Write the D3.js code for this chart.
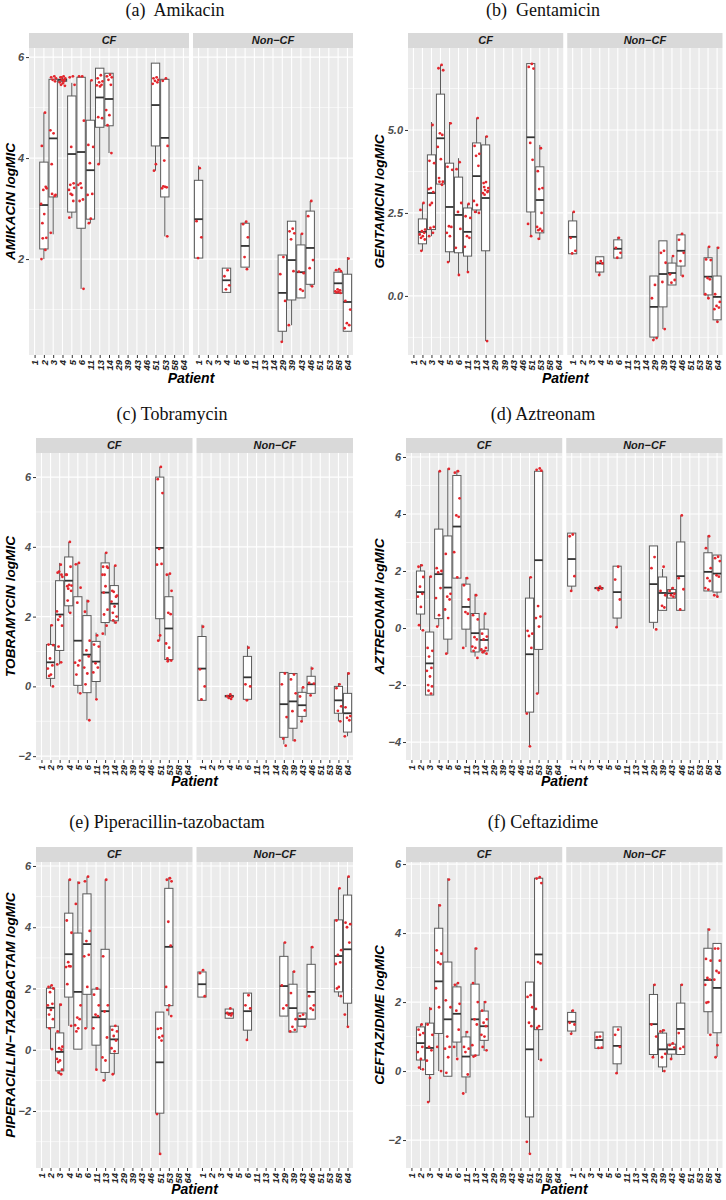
<!DOCTYPE html>
<html>
<head>
<meta charset="utf-8">
<title>logMIC by patient</title>
<script src="https://cdnjs.cloudflare.com/ajax/libs/d3/7.8.5/d3.min.js"></script>
<style>
  html, body { margin: 0; padding: 0; background: #fff; }
  svg text { font-family: "Liberation Sans", Arial, sans-serif; }
  .title { font-family: "Liberation Serif", "Times New Roman", serif; font-size: 18px; white-space: pre; }
  .bi { font-weight: bold; font-style: italic; }
</style>
</head>
<body>
<svg id="chart" width="726" height="1200"></svg>
<script>
// patients on the x axis (same for both facets)
const patients = ['1', '2', '3', '4', '5', '6', '11', '13', '14', '29', '39', '43', '46', '51', '53', '58', '64']

// rows: [group, patient, [lower whisker, q1, median, q3, upper whisker], points]
const amikacin = [
  ['CF', '2', [2.0, 2.2, 3.07, 3.92, 4.9], [4.9, 4.24, 3.4, 3.37, 3.43, 3.09, 2.89, 2.71, 2.42, 2.41, 2.18, 2.0]],
  ['CF', '3', [2.49, 3.23, 4.39, 5.56, 5.56], [5.62, 5.6, 5.58, 5.55, 5.52, 4.55, 4.49, 3.88, 3.27, 3.29, 3.25, 2.52]],
  ['CF', '4', [5.5, 5.52, 5.55, 5.56, 5.6], [5.62, 5.6, 5.58, 5.55, 5.55, 5.5, 5.48, 5.45, 5.43, 5.6, 5.52]],
  ['CF', '5', [2.81, 2.93, 4.08, 5.23, 5.49], [5.62, 5.6, 5.45, 4.22, 3.5, 3.37, 3.27, 3.47, 3.41, 3.29, 3.15, 2.82]],
  ['CF', '6', [1.41, 2.61, 4.12, 5.6, 5.6], [5.62, 5.62, 4.74, 3.5, 3.18, 3.47, 3.41, 3.15, 1.41]],
  ['CF', '11', [2.71, 2.79, 3.76, 4.75, 5.54], [5.54, 4.26, 4.22, 3.9, 3.29, 3.27, 2.8, 2.71]],
  ['CF', '13', [3.88, 4.61, 5.2, 5.78, 5.78], [5.64, 5.58, 5.52, 5.5, 5.45, 5.44, 5.42, 4.81, 4.79, 3.88]],
  ['CF', '14', [4.1, 4.64, 5.17, 5.68, 5.68], [5.65, 5.62, 5.6, 5.55, 5.45, 4.95, 4.85, 4.65, 4.1]],
  ['CF', '51', [3.75, 4.24, 5.05, 5.88, 5.88], [5.6, 5.58, 5.55, 5.53, 5.5, 5.47, 3.88, 3.75]],
  ['CF', '53', [2.45, 3.23, 4.4, 5.56, 5.56], [5.58, 5.53, 4.24, 3.95, 3.42, 3.4, 3.43, 3.44, 2.45]],
  ['Non', '1', [2.02, 2.02, 2.79, 3.56, 3.85], [3.8, 2.75, 2.43, 2.02]],
  ['Non', '4', [1.34, 1.34, 1.58, 1.82, 1.82], [1.78, 1.66, 1.48, 1.4]],
  ['Non', '6', [1.84, 1.84, 2.26, 2.71, 2.74], [2.74, 2.69, 2.43, 2.04, 1.8]],
  ['Non', '29', [0.36, 0.57, 1.33, 2.08, 2.08], [2.04, 1.7, 1.17, 0.36]],
  ['Non', '39', [0.69, 1.19, 1.98, 2.75, 2.75], [2.6, 2.55, 2.51, 2.39, 1.76, 0.69]],
  ['Non', '43', [1.23, 1.23, 1.74, 2.28, 2.5], [2.5, 1.75, 1.72, 1.4, 1.37]],
  ['Non', '46', [1.46, 1.5, 2.22, 2.95, 3.15], [3.15, 2.85, 1.98, 1.82, 1.46]],
  ['Non', '58', [1.32, 1.32, 1.52, 1.74, 1.8], [1.8, 1.78, 1.76, 1.4, 1.38, 1.36, 1.35, 1.34, 1.33]],
  ['Non', '64', [0.57, 0.57, 1.15, 1.7, 2.04], [2.01, 1.17, 1.0, 0.73, 0.69, 0.63]]
]

const gentamicin = [
  ['CF', '2', [1.36, 1.57, 1.93, 2.32, 2.8], [2.8, 2.59, 2.0, 1.95, 1.9, 1.85, 1.8, 1.75, 1.7, 1.36]],
  ['CF', '3', [1.8, 2.0, 3.1, 4.25, 5.24], [5.15, 4.07, 4.0, 3.25, 3.13, 3.22, 2.8, 2.74, 2.08, 2.05, 1.9, 1.8]],
  ['CF', '4', [3.35, 3.37, 4.75, 6.08, 6.96], [6.96, 6.86, 6.8, 4.9, 4.85, 4.49, 4.12, 3.55, 3.44, 3.44, 3.35]],
  ['CF', '5', [1.02, 1.33, 2.68, 4.0, 5.24], [5.2, 3.89, 3.8, 2.1, 2.08, 1.9, 1.8, 1.02]],
  ['CF', '6', [0.63, 1.3, 2.44, 3.58, 4.15], [4.03, 3.82, 2.8, 2.53, 2.02, 1.45, 0.63]],
  ['CF', '11', [0.72, 1.2, 1.93, 2.65, 2.77], [2.77, 2.4, 2.35, 1.8, 1.75, 1.48, 0.72]],
  ['CF', '13', [2.5, 2.59, 3.61, 4.61, 5.36], [5.36, 4.52, 4.28, 4.22, 3.92, 2.86, 2.74, 2.53, 2.5]],
  ['CF', '14', [-1.36, 1.36, 2.95, 4.55, 4.82], [4.8, 3.4, 3.25, 3.19, 3.13, 3.1, 3.43, 3.28, 3.16, 3.05, -1.36]],
  ['CF', '51', [1.8, 2.53, 4.78, 7.0, 7.0], [6.99, 6.9, 6.85, 4.61, 4.1, 2.17, 1.8]],
  ['CF', '53', [1.69, 1.9, 2.89, 3.89, 4.55], [4.45, 3.76, 3.25, 3.22, 2.5, 2.08, 2.02, 1.98, 1.96, 1.72]],
  ['Non', '1', [1.27, 1.27, 1.78, 2.26, 2.53], [2.53, 1.75, 1.36, 1.28]],
  ['Non', '4', [0.63, 0.72, 0.98, 1.18, 1.18], [1.05, 1.0, 0.98, 0.63]],
  ['Non', '6', [1.14, 1.14, 1.42, 1.69, 1.78], [1.75, 1.45, 1.3, 1.15]],
  ['Non', '29', [-1.33, -1.24, -0.33, 0.6, 0.6], [0.33, -0.07, -1.27, -1.33]],
  ['Non', '39', [-1.0, -0.33, 0.66, 1.66, 1.66], [1.36, 1.3, 1.0, 0.42, -1.0]],
  ['Non', '43', [0.33, 0.33, 0.69, 0.99, 1.18], [1.2, 0.65, 0.48, 0.4]],
  ['Non', '46', [0.6, 0.9, 1.36, 1.84, 1.87], [1.87, 1.69, 1.3, 1.05, 0.6]],
  ['Non', '58', [-0.07, 0.03, 0.58, 1.15, 1.48], [1.48, 1.1, 1.08, 0.54, 0.5, 0.05, -0.07]],
  ['Non', '64', [-0.78, -0.72, -0.03, 0.6, 1.48], [1.45, 0.05, -0.18, -0.3, -0.35, -0.4, -0.78]]
]

const tobramycin = [
  ['CF', '2', [0.0, 0.23, 0.69, 1.2, 1.77], [1.75, 1.2, 1.18, 0.8, 0.6, 0.51, 0.34, 0.3, 0.0]],
  ['CF', '3', [0.63, 1.03, 2.06, 3.03, 3.54], [3.49, 3.26, 3.14, 3.29, 3.2, 2.15, 2.0, 1.91, 1.74, 1.14, 0.69, 0.63]],
  ['CF', '4', [2.11, 2.31, 3.03, 3.71, 4.14], [4.14, 3.2, 2.89, 2.8, 3.43, 3.2, 2.91, 2.87, 2.74, 2.46, 2.11]],
  ['CF', '5', [-0.2, 0.03, 1.31, 2.57, 3.54], [3.54, 3.5, 2.83, 2.4, 0.74, 0.68, 0.6, 0.34, -0.2]],
  ['CF', '6', [-0.97, -0.18, 0.91, 2.03, 2.49], [2.44, 2.14, 1.31, 1.03, 0.86, 0.54, 0.37, 0.06, -0.97]],
  ['CF', '11', [-0.34, 0.14, 0.71, 1.29, 1.54], [1.46, 1.2, 1.14, 0.66, 0.54, 0.4, -0.37]],
  ['CF', '13', [1.46, 1.83, 2.69, 3.54, 3.83], [3.83, 3.43, 3.4, 3.2, 3.43, 3.2, 2.87, 2.69, 2.2, 2.06, 1.74, 1.51]],
  ['CF', '14', [1.8, 1.88, 2.37, 2.89, 3.46], [3.46, 2.74, 2.6, 2.71, 2.57, 2.43, 2.29, 2.11, 2.0, 1.89, 1.83]],
  ['CF', '51', [1.31, 1.94, 3.97, 6.0, 6.29], [6.29, 5.94, 5.54, 3.94, 3.51, 3.49, 1.46, 1.31]],
  ['CF', '53', [0.72, 0.77, 1.66, 2.57, 3.23], [3.23, 3.2, 2.74, 2.11, 2.07, 1.23, 1.11, 0.8, 0.74, 0.72]],
  ['Non', '1', [-0.4, -0.4, 0.51, 1.43, 1.77], [1.71, 0.49, 0.0, -0.37]],
  ['Non', '4', [-0.3, -0.3, -0.28, -0.26, -0.24], [-0.23, -0.28, -0.3, -0.33, -0.36]],
  ['Non', '6', [-0.37, -0.37, 0.26, 0.86, 1.17], [1.11, 0.06, 0.0, -0.4]],
  ['Non', '29', [-1.66, -1.46, -0.51, 0.4, 0.4], [0.37, 0.06, -0.88, -1.5, -1.7]],
  ['Non', '39', [-1.57, -1.2, -0.43, 0.37, 0.37], [0.34, 0.2, -0.2, -0.71, -1.55]],
  ['Non', '43', [-1.03, -0.86, -0.54, -0.17, -0.03], [-0.03, -0.29, -0.69, -1.0]],
  ['Non', '46', [-0.2, -0.2, 0.06, 0.29, 0.57], [0.51, 0.1, 0.08, -0.26]],
  ['Non', '58', [-1.0, -0.77, -0.4, 0.0, 0.09], [0.06, -0.05, -0.57, -0.7, -1.0]],
  ['Non', '64', [-1.43, -1.31, -0.77, -0.2, 0.4], [0.37, -0.6, -0.85, -0.9, -0.97, -1.43]]
]

const aztreonam = [
  ['CF', '2', [-0.07, 0.49, 1.26, 2.0, 2.24], [2.2, 2.15, 1.79, 1.45, 1.2, 1.1, 0.74, 0.1, -0.08]],
  ['CF', '3', [-2.35, -2.35, -1.24, -0.14, 1.82], [1.8, -0.7, -0.8, -1.0, -1.4, -1.5, -1.7, -2.0, -2.05, -2.2, -2.3]],
  ['CF', '4', [0.07, 0.33, 1.89, 3.47, 5.5], [5.5, 2.1, 2.0, 1.95, 1.4, 1.05, 0.45, 0.05]],
  ['CF', '5', [-0.91, -0.39, 1.42, 3.23, 5.6], [5.58, 2.6, 1.2, 1.1, 1.0, 0.65, 0.35, -0.9]],
  ['CF', '6', [1.75, 1.75, 3.56, 5.35, 5.53], [5.5, 5.45, 4.55, 3.95, 3.9, 2.66, 1.78]],
  ['CF', '11', [-0.67, -0.04, 0.74, 1.54, 1.79], [1.75, 1.5, 1.0, 0.56, 0.5, -0.7]],
  ['CF', '13', [-1.0, -0.84, -0.18, 0.51, 1.2], [1.15, 0.45, 0.3, -0.32, -0.4, -0.65, -0.7, -0.8, -1.05]],
  ['CF', '14', [-0.9, -0.8, -0.42, -0.04, 0.5], [0.5, -0.2, -0.3, -0.4, -0.7, -0.75, -0.8, -0.85, -0.9]],
  ['CF', '51', [-4.14, -2.95, -0.92, 1.05, 1.79], [1.78, -0.1, -0.2, -0.28, -0.7, -3.0, -4.15]],
  ['CF', '53', [-2.3, -0.75, 2.38, 5.5, 5.5], [5.6, 5.55, 5.52, 0.77, 0.4, 0.35, 0.05, -2.3]],
  ['Non', '1', [1.3, 1.47, 2.42, 3.33, 3.33], [3.28, 3.22, 1.82, 1.3]],
  ['Non', '4', [1.36, 1.38, 1.4, 1.42, 1.45], [1.45, 1.4, 1.38, 1.33]],
  ['Non', '6', [0.03, 0.35, 1.26, 2.17, 2.17], [2.15, 1.7, 1.0, 0.03]],
  ['Non', '29', [-0.02, 0.2, 1.54, 2.88, 2.88], [2.49, 2.1, -0.05]],
  ['Non', '39', [0.62, 0.62, 1.23, 1.79, 2.07], [2.15, 1.3, 1.15, 0.78, 0.72]],
  ['Non', '43', [1.05, 1.05, 1.22, 1.35, 1.42], [1.4, 1.3, 1.2, 1.15, 1.1]],
  ['Non', '46', [0.62, 0.62, 1.82, 3.02, 3.95], [3.95, 1.75, 1.36, 0.65]],
  ['Non', '58', [1.3, 1.3, 1.97, 2.64, 3.25], [3.22, 2.8, 2.1, 1.75, 1.65, 1.4, 1.35]],
  ['Non', '64', [1.09, 1.26, 1.91, 2.56, 2.56], [2.5, 2.45, 2.35, 1.85, 1.8, 1.15, 1.1]]
]

const piperacillin = [
  ['CF', '2', [0.02, 0.72, 1.37, 2.01, 2.1], [2.1, 2.05, 2.0, 1.88, 1.5, 1.45, 1.3, 1.15, 1.0, 0.7, 0.02]],
  ['CF', '3', [-0.8, -0.69, -0.07, 0.55, 1.51], [1.47, 0.6, 0.1, 0.05, 0.0, -0.3, -0.35, -0.4, -0.65, -0.75, -0.8]],
  ['CF', '4', [0.78, 1.72, 3.12, 4.46, 5.56], [5.55, 4.22, 3.82, 2.86, 2.72, 2.7, 2.73, 2.14, 0.78]],
  ['CF', '5', [0.02, 0.02, 1.89, 3.81, 5.5], [5.45, 4.76, 1.45, 1.05, 1.0, 0.8, 0.7, 0.6]],
  ['CF', '6', [0.7, 1.81, 3.45, 5.09, 5.65], [5.65, 5.5, 3.88, 3.55, 3.1, 3.05, 2.05, 0.7]],
  ['CF', '11', [-0.64, 0.15, 1.06, 1.98, 2.05], [2.0, 1.8, 1.45, 1.15, 1.1, 0.7, -0.65]],
  ['CF', '13', [-1.02, -0.74, 1.26, 3.28, 5.56], [5.55, 3.05, 1.45, 1.25, 0.4, -0.25, -0.35, -1.0]],
  ['CF', '14', [-0.8, -0.12, 0.34, 0.77, 0.77], [0.78, 0.65, 0.6, 0.45, 0.3, 0.05, -0.05, -0.8]],
  ['CF', '51', [-3.38, -2.07, -0.41, 1.23, 1.23], [0.7, 0.68, 0.45, 0.4, 0.3, -2.1, -3.4]],
  ['CF', '53', [1.12, 1.44, 3.36, 5.27, 5.63], [5.6, 5.55, 5.5, 4.18, 3.4, 2.05, 1.45, 1.3, 1.1]],
  ['Non', '1', [1.72, 1.72, 2.14, 2.54, 2.54], [2.6, 2.5, 1.75]],
  ['Non', '4', [1.03, 1.03, 1.19, 1.33, 1.33], [1.35, 1.2, 1.18, 1.15, 1.12]],
  ['Non', '6', [0.31, 0.64, 1.26, 1.85, 1.85], [1.78, 1.45, 1.35, 0.32]],
  ['Non', '29', [1.1, 1.1, 2.08, 3.05, 3.5], [3.5, 2.1, 1.45, 1.35]],
  ['Non', '39', [0.58, 0.58, 1.36, 2.14, 2.57], [2.55, 1.85, 1.0, 0.75, 0.65, 0.6]],
  ['Non', '43', [0.77, 0.77, 1.0, 1.2, 1.2], [1.15, 1.1, 0.75]],
  ['Non', '46', [1.0, 1.0, 1.89, 2.79, 3.38], [3.35, 1.75, 1.45, 1.35, 1.3]],
  ['Non', '58', [1.73, 1.89, 3.06, 4.24, 5.27], [5.27, 4.22, 3.25, 3.1, 2.85, 2.8, 2.05, 2.0, 1.75]],
  ['Non', '64', [0.75, 1.52, 3.28, 5.05, 5.65], [5.65, 4.15, 4.1, 4.0, 3.5, 1.15, 0.75]]
]

const ceftazidime = [
  ['CF', '2', [0.03, 0.32, 0.81, 1.28, 1.36], [1.35, 1.2, 1.1, 1.05, 0.7, 0.55, 0.35, 0.1, 0.05]],
  ['CF', '3', [-0.9, -0.1, 0.67, 1.39, 1.86], [1.8, 1.35, 1.05, 0.7, 0.6, 0.3, -0.2, -0.9]],
  ['CF', '4', [0.0, 1.09, 2.6, 4.14, 4.84], [4.8, 3.5, 3.4, 3.15, 3.1, 2.4, 1.85, 0.7, 0.0]],
  ['CF', '5', [-0.15, -0.15, 1.5, 3.16, 5.59], [5.55, 2.05, 1.85, 1.0, 0.7, 0.65, 0.4, -0.05]],
  ['CF', '6', [0.41, 0.84, 1.66, 2.44, 2.55], [2.55, 2.5, 1.95, 1.75, 1.2, 0.7, 0.35]],
  ['CF', '11', [-0.64, -0.17, 0.42, 0.99, 1.16], [1.13, 0.7, 0.65, 0.55, -0.1, -0.65]],
  ['CF', '13', [0.42, 0.46, 1.5, 2.52, 3.58], [3.55, 2.55, 2.0, 1.5, 1.35, 0.75, 0.45, 0.42]],
  ['CF', '14', [0.58, 0.89, 1.3, 1.74, 2.03], [2.0, 1.75, 1.5, 1.4, 1.3, 1.05, 1.0, 0.7, 0.6]],
  ['CF', '51', [-2.4, -1.33, 0.63, 2.58, 2.58], [2.2, 2.15, 1.85, 1.4, 1.3, -2.05, -2.4]],
  ['CF', '53', [0.32, 1.2, 3.38, 5.59, 5.59], [5.62, 5.58, 5.45, 3.16, 3.12, 1.8, 1.3, 1.25, 0.32]],
  ['Non', '1', [1.08, 1.16, 1.43, 1.7, 1.77], [1.75, 1.4, 1.35, 1.08]],
  ['Non', '4', [0.66, 0.66, 0.9, 1.13, 1.13], [1.0, 0.98, 0.68, 0.67]],
  ['Non', '6', [-0.06, 0.21, 0.73, 1.28, 1.28], [1.2, 1.05, 0.7, -0.06]],
  ['Non', '29', [0.39, 0.48, 1.36, 2.22, 2.52], [2.5, 1.35, 1.0, 0.4]],
  ['Non', '39', [-0.03, 0.12, 0.63, 1.1, 1.21], [1.18, 1.15, 0.5, 0.4, 0.0]],
  ['Non', '43', [0.34, 0.49, 0.63, 0.78, 0.78], [0.8, 0.75, 0.68, 0.35]],
  ['Non', '46', [0.48, 0.48, 1.22, 1.97, 2.52], [2.5, 1.1, 0.7, 0.65]],
  ['Non', '58', [1.08, 1.72, 2.64, 3.56, 4.14], [4.1, 3.25, 3.2, 2.7, 2.65, 2.5, 2.0, 1.98, 1.05]],
  ['Non', '64', [0.41, 1.11, 2.41, 3.7, 3.7], [3.55, 3.55, 3.2, 2.9, 2.85, 2.65, 0.75, 0.4]]
]

// tick labels
const ticksEven = [-4, -2, 0, 2, 4, 6]
const minorOdd = [-3, -1, 1, 3, 5]
const ticksGent = [0, 2.5, 5]
const minorGent = [-1.25, 1.25, 3.75, 6.25]

// layout of the six panels
const panels = [
  { title: '(a)  Amikacin', tx: 175, ty: 16, data: amikacin, ylab: 'AMIKACIN logMIC',
    dom: [0.10, 6.18], ticks: ticksEven, minor: minorOdd, fmt: d3.format('d'),
    x0: 29, x1: 353, strip: 33, top: 48, bottom: 355, ylx: 15, patY: 383 },
  { title: '(b)  Gentamicin', tx: 543, ty: 16, data: gentamicin, ylab: 'GENTAMICIN logMIC',
    dom: [-1.78, 7.47], ticks: ticksGent, minor: minorGent, fmt: d3.format('.1f'),
    x0: 408, x1: 722.5, strip: 33, top: 48, bottom: 355, ylx: 384, patY: 383 },
  { title: '(c) Tobramycin', tx: 172, ty: 420, data: tobramycin, ylab: 'TOBRAMYCIN logMIC',
    dom: [-2.11, 6.69], ticks: ticksEven, minor: minorOdd, fmt: d3.format('d'),
    x0: 36, x1: 353, strip: 438, top: 453, bottom: 760, ylx: 15, patY: 786 },
  { title: '(d) Aztreonam', tx: 543, ty: 420, data: aztreonam, ylab: 'AZTREONAM logMIC',
    dom: [-4.63, 6.14], ticks: ticksEven, minor: minorOdd, fmt: d3.format('d'),
    x0: 406, x1: 722.5, strip: 438, top: 453, bottom: 760, ylx: 384, patY: 786 },
  { title: '(e) Piperacillin-tazobactam', tx: 167, ty: 828, data: piperacillin, ylab: 'PIPERACILLIN\u2212TAZOBACTAM logMIC',
    dom: [-3.86, 6.13], ticks: ticksEven, minor: minorOdd, fmt: d3.format('d'),
    x0: 36, x1: 353, strip: 847, top: 862, bottom: 1168, ylx: 15, patY: 1194 },
  { title: '(f) Ceftazidime', tx: 543, ty: 828, data: ceftazidime, ylab: 'CEFTAZIDIME logMIC',
    dom: [-2.81, 6.06], ticks: ticksEven, minor: minorOdd, fmt: d3.format('d'),
    x0: 406, x1: 722.5, strip: 847, top: 862, bottom: 1168, ylx: 384, patY: 1194 }
]

const jit = [0.12, -0.22, 0.3, -0.06, 0.2, -0.3, 0.04, -0.16, 0.26, -0.12, 0.16, -0.26, 0.08, -0.02, 0.22]
const svg = d3.select('#chart')

panels.forEach(p => {
  const g = svg.append('g')
  const y = d3.scaleLinear().domain(p.dom).range([p.bottom, p.top])
  const mid = (p.x0 + p.x1) / 2
  const facets = [
    { key: 'CF', label: 'CF', a: p.x0, b: mid - 2 },
    { key: 'Non', label: 'Non\u2212CF', a: mid + 2, b: p.x1 }
  ]
  const inDom = v => v >= p.dom[0] && v <= p.dom[1]

  facets.forEach(f => {
    const x = d3.scalePoint().domain(patients).range([f.a, f.b]).padding(0.6)
    const step = x.step()
    const w = step * 0.9

    g.append('rect').attr('x', f.a).attr('y', p.top)
      .attr('width', f.b - f.a).attr('height', p.bottom - p.top).attr('fill', '#ebebeb')

    g.selectAll(null).data(p.minor.filter(inDom)).join('line')
      .attr('x1', f.a).attr('x2', f.b).attr('y1', y).attr('y2', y)
      .attr('stroke', '#fff').attr('stroke-width', 0.6)
    g.selectAll(null).data(p.ticks.filter(inDom)).join('line')
      .attr('x1', f.a).attr('x2', f.b).attr('y1', y).attr('y2', y)
      .attr('stroke', '#fff').attr('stroke-width', 1.2)
    g.selectAll(null).data(patients).join('line')
      .attr('x1', d => x(d)).attr('x2', d => x(d)).attr('y1', p.top).attr('y2', p.bottom)
      .attr('stroke', '#fff').attr('stroke-width', 1.1)

    // strip
    g.append('rect').attr('x', f.a).attr('y', p.strip)
      .attr('width', f.b - f.a).attr('height', p.top - p.strip).attr('fill', '#d9d9d9')
    g.append('text').attr('class', 'bi').attr('x', (f.a + f.b) / 2).attr('y', (p.strip + p.top) / 2)
      .attr('dy', '0.36em').attr('text-anchor', 'middle').attr('font-size', 11).attr('fill', '#1a1a1a')
      .text(f.label)

    const rows = p.data.filter(r => r[0] === f.key)
    const box = g.selectAll(null).data(rows).join('g')
    box.append('line')
      .attr('x1', d => x(d[1])).attr('x2', d => x(d[1]))
      .attr('y1', d => y(d[2][4])).attr('y2', d => y(d[2][0]))
      .attr('stroke', '#5a5a5a').attr('stroke-width', 1)
    box.append('rect')
      .attr('x', d => x(d[1]) - w / 2).attr('width', w)
      .attr('y', d => y(d[2][3])).attr('height', d => Math.max(0.5, y(d[2][1]) - y(d[2][3])))
      .attr('fill', '#fff').attr('stroke', '#5a5a5a').attr('stroke-width', 1)
    box.append('line')
      .attr('x1', d => x(d[1]) - w / 2).attr('x2', d => x(d[1]) + w / 2)
      .attr('y1', d => y(d[2][2])).attr('y2', d => y(d[2][2]))
      .attr('stroke', '#333').attr('stroke-width', 1.8)

    const pts = rows.flatMap(r => r[3].map((v, i) => ({ p: r[1], v, i })))
    g.selectAll(null).data(pts).join('circle')
      .attr('cx', d => x(d.p) + jit[d.i % jit.length] * step)
      .attr('cy', d => y(d.v))
      .attr('r', 1.4)
      .attr('fill', '#e3262d')

    // x axis
    const ax = g.append('g').attr('transform', `translate(0,${p.bottom})`)
      .call(d3.axisBottom(x).tickSize(3).tickSizeOuter(0))
    ax.select('.domain').remove()
    ax.selectAll('line').attr('stroke', '#333')
    ax.selectAll('text')
      .attr('class', 'bi')
      .attr('transform', 'rotate(-90)')
      .attr('x', -5).attr('y', 0).attr('dy', '0.35em')
      .attr('text-anchor', 'end')
      .attr('font-size', 9.5).attr('fill', '#222')
  })

  // y axis
  const ay = g.append('g').attr('transform', `translate(${p.x0},0)`)
    .call(d3.axisLeft(y).tickValues(p.ticks.filter(inDom)).tickFormat(p.fmt).tickSize(3).tickPadding(2))
  ay.select('.domain').remove()
  ay.selectAll('line').attr('stroke', '#333')
  ay.selectAll('text').attr('class', 'bi').attr('font-size', 11).attr('fill', '#4d4d4d')

  // titles
  g.append('text').attr('class', 'title').attr('x', p.tx).attr('y', p.ty)
    .attr('text-anchor', 'middle').attr('fill', '#111').text(p.title)
  g.append('text').attr('class', 'bi')
    .attr('transform', `translate(${p.ylx},${(p.top + p.bottom) / 2}) rotate(-90)`)
    .attr('text-anchor', 'middle').attr('font-size', 13.6).attr('fill', '#000').text(p.ylab)
  g.append('text').attr('class', 'bi').attr('x', mid).attr('y', p.patY)
    .attr('text-anchor', 'middle').attr('font-size', 14).attr('fill', '#000').text('Patient')
})
</script>
</body>
</html>
